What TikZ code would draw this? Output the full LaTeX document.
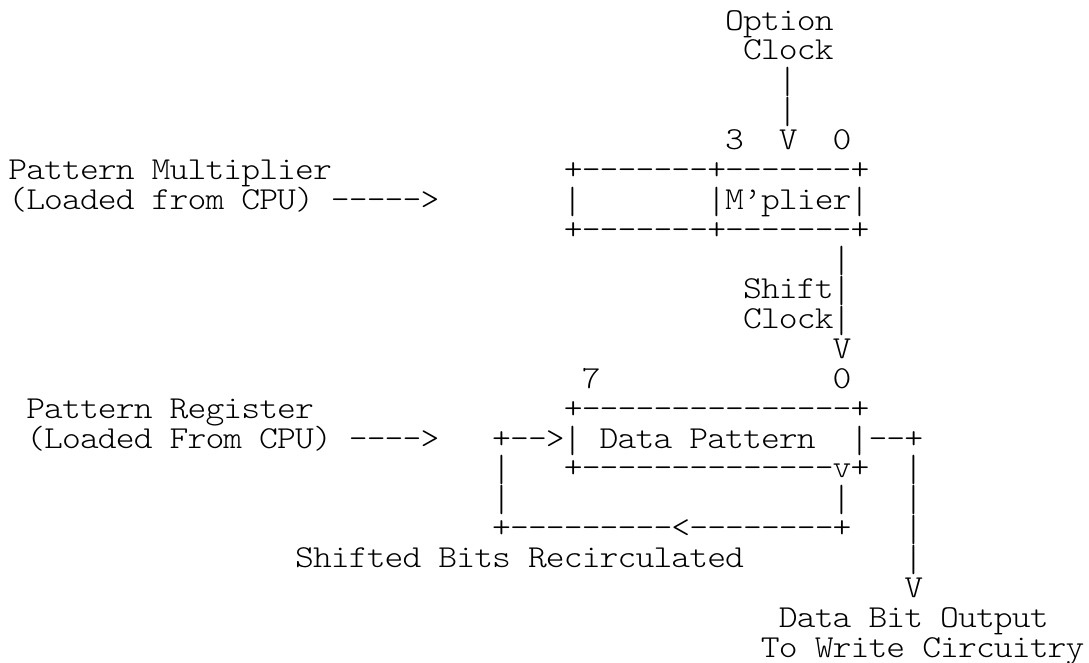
\documentclass[tikz,border=0pt]{standalone}
\usepackage{fontspec}
\usepackage{graphicx}
\newfontfamily\asciifont[FakeStretch=1.12]{lmmonolt10-regular.otf}
\newlength\cellw
\setlength\cellw{8.96pt}
% set a string on a fixed character grid, one cell per character;
% bars are stretched so that they nearly meet from row to row
\ExplSyntaxOn
\cs_new:Npn \asc_glyph:n #1
  {
    \str_case:nnF {#1}
      {
        {|} { \raisebox{-2pt}{\scalebox{1}[1.18]{|}} }
      }
      {#1}
  }
\NewDocumentCommand \cells { m }
  { \str_map_inline:nn {#1} { \makebox[\cellw][c]{ \asc_glyph:n {##1} } } }
\ExplSyntaxOff
\tikzset{
  ascii/.style={anchor=base west, inner sep=0pt, outer sep=0pt,
    font=\asciifont\fontsize{16pt}{14.93pt}\selectfont},
}
\begin{document}
\begin{tikzpicture}[x=8.96pt, y=-14.93pt]
\fill[white] (-0.491,-0.005) rectangle (60.28,22.166);
\useasboundingbox (-0.491,-0.005) rectangle (60.28,22.166);
% option clock feeding the multiplier
\node[ascii] (optA) at (40,1) {\cells{Option}};
\node[ascii] (optB) at (41,2) {\cells{Clock}};
\node[ascii] (optL1) at (43,3) {\cells{|}};
\node[ascii] (optL2) at (43,4) {\cells{|}};
\node[ascii] (mbit3) at (40,5) {\cells{3}};
\node[ascii] (optV) at (43,5) {\cells{V}};
\node[ascii] (mbit0) at (46,5) {\cells{0}};
% pattern multiplier register
\node[ascii] (pmA) at (0,6) {\cells{Pattern Multiplier}};
\node[ascii] (mtop) at (31,6) {\cells{+-------+-------+}};
\node[ascii] (pmB) at (0,7) {\cells{(Loaded from CPU) ----->}};
\node[ascii] (mleft) at (31,7) {\cells{|}};
\node[ascii] (mcell) at (39,7) {\cells{|M’plier|}};
\node[ascii] (mbot) at (31,8) {\cells{+-------+-------+}};
% shift clock
\node[ascii] (shL1) at (46,9) {\cells{|}};
\node[ascii] (shA) at (41,10) {\cells{Shift|}};
\node[ascii] (shB) at (41,11) {\cells{Clock|}};
\node[ascii] (shV) at (46,12) {\cells{V}};
% data pattern register
\node[ascii] (dbit7) at (32,13) {\cells{7}};
\node[ascii] (dbit0) at (46,13) {\cells{0}};
\node[ascii] (prA) at (1,14) {\cells{Pattern Register}};
\node[ascii] (dtop) at (31,14) {\cells{+---------------+}};
\node[ascii] (prB) at (1,15) {\cells{(Loaded From CPU) ---->}};
\node[ascii] (dcell) at (27,15) {\cells{+-->| Data Pattern}};
\node[ascii] (dout) at (47,15) {\cells{|--+}};
\node[ascii] (recL1) at (27,16) {\cells{|}};
\node[ascii] (dbot) at (31,16) {\cells{+--------------v+}};
\node[ascii] (outL1) at (50,16) {\cells{|}};
\node[ascii] (recL2) at (27,17) {\cells{|}};
\node[ascii] (recR) at (46,17) {\cells{|}};
\node[ascii] (outL2) at (50,17) {\cells{|}};
\node[ascii] (rec) at (27,18) {\cells{+---------<--------+}};
\node[ascii] (outL3) at (50,18) {\cells{|}};
\node[ascii] (recT) at (16,19) {\cells{Shifted Bits Recirculated}};
\node[ascii] (outL4) at (50,19) {\cells{|}};
% serial output
\node[ascii] (outV) at (50,20) {\cells{V}};
\node[ascii] (outA) at (43,21) {\cells{Data Bit Output}};
\node[ascii] (outB) at (42,22) {\cells{To Write Circuitry}};
\end{tikzpicture}
\end{document}
